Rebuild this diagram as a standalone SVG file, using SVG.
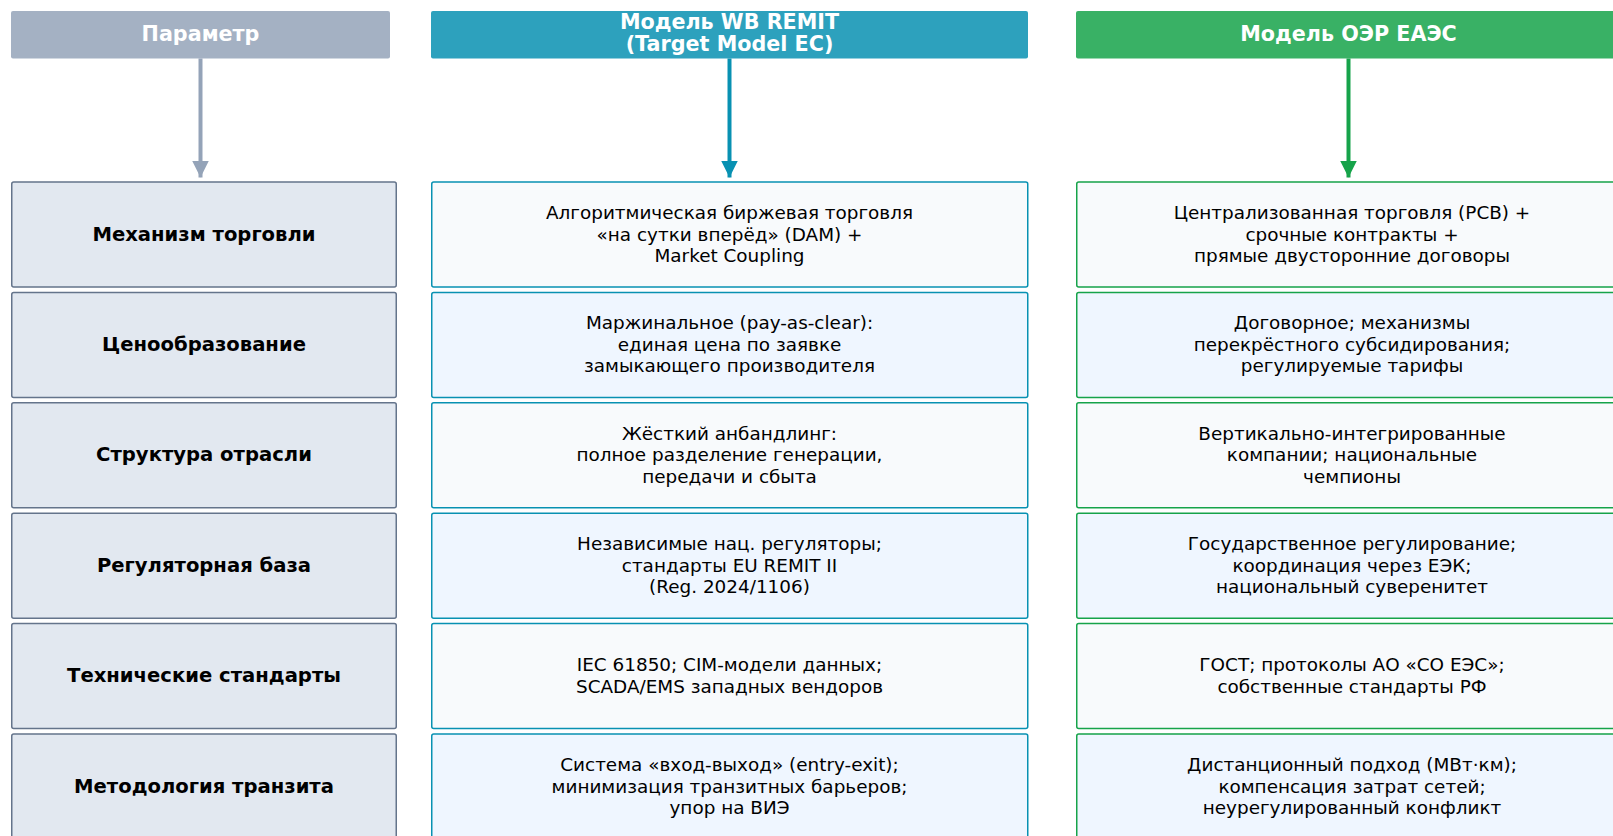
<svg xmlns="http://www.w3.org/2000/svg" width="1613" height="836" viewBox="0 0 1613 836">
  <defs>
    <style>
      .hdr-text { font-family: "DejaVu Sans", "Liberation Sans", sans-serif; font-size: 20.7px; font-weight: bold; fill: #ffffff; text-anchor: middle; dominant-baseline: central; }
      .lbl { font-family: "DejaVu Sans", "Liberation Sans", sans-serif; font-size: 19.6px; font-weight: bold; fill: #000000; text-anchor: middle; dominant-baseline: central; }
      .body { font-family: "DejaVu Sans", "Liberation Sans", sans-serif; font-size: 18.4px; fill: #000000; text-anchor: middle; dominant-baseline: central; }
      .param { fill: #e2e8f0; stroke: #64748b; stroke-width: 1.5; }
      .wb { stroke: #0891b2; stroke-width: 1.5; }
      .eaeu { stroke: #16a34a; stroke-width: 1.5; }
      .odd { fill: #f8fafc; }
      .even { fill: #eff6ff; }
      .conn { fill: none; stroke-width: 4; }
    </style>
    <marker id="arrGray" viewBox="0 0 10 10" refX="10" refY="5" markerUnits="userSpaceOnUse" markerWidth="17" markerHeight="17" orient="auto">
      <path d="M0,0 L10,5 L0,10 Z" fill="#94a3b8"/>
    </marker>
    <marker id="arrTeal" viewBox="0 0 10 10" refX="10" refY="5" markerUnits="userSpaceOnUse" markerWidth="17" markerHeight="17" orient="auto">
      <path d="M0,0 L10,5 L0,10 Z" fill="#0891b2"/>
    </marker>
    <marker id="arrGreen" viewBox="0 0 10 10" refX="10" refY="5" markerUnits="userSpaceOnUse" markerWidth="17" markerHeight="17" orient="auto">
      <path d="M0,0 L10,5 L0,10 Z" fill="#16a34a"/>
    </marker>
  </defs>

  <rect x="0" y="0" width="1613" height="836" fill="#ffffff"/>

  <!-- column headers -->
  <g id="hdr-param">
    <rect x="11" y="11" width="379" height="47.5" rx="2" fill="#94a3b8" fill-opacity="0.85"/>
    <text class="hdr-text" x="200.5" y="34">Параметр</text>
  </g>
  <g id="hdr-wb">
    <rect x="431" y="11" width="597" height="47.5" rx="2" fill="#0891b2" fill-opacity="0.85"/>
    <text class="hdr-text" x="729.5" y="21.5">Модель WB REMIT</text>
    <text class="hdr-text" x="729.5" y="44">(Target Model ЕС)</text>
  </g>
  <g id="hdr-eaeu">
    <rect x="1076" y="11" width="545" height="47.5" rx="2" fill="#16a34a" fill-opacity="0.85"/>
    <text class="hdr-text" x="1348.5" y="34">Модель ОЭР ЕАЭС</text>
  </g>

  <!-- connectors -->
  <g id="connectors">
    <line class="conn" x1="200.5" y1="58.5" x2="200.5" y2="177.5" stroke="#94a3b8" marker-end="url(#arrGray)"/>
    <line class="conn" x1="729.5" y1="58.5" x2="729.5" y2="177.5" stroke="#0891b2" marker-end="url(#arrTeal)"/>
    <line class="conn" x1="1348.5" y1="58.5" x2="1348.5" y2="177.5" stroke="#16a34a" marker-end="url(#arrGreen)"/>
  </g>

  <!-- row 1 -->
  <g id="p-trade">
    <rect class="param" x="11.75" y="182" width="384.5" height="105" rx="2"/>
    <text class="lbl" x="204" y="234">Механизм торговли</text>
  </g>
  <g id="wb-trade">
    <rect class="wb odd" x="431.75" y="182" width="596" height="105" rx="2"/>
    <text class="body" x="729.5" y="212.5">Алгоритмическая биржевая торговля</text>
    <text class="body" x="729.5" y="234">«на сутки вперёд» (DAM) +</text>
    <text class="body" x="729.5" y="255.5">Market Coupling</text>
  </g>
  <g id="eaeu-trade">
    <rect class="eaeu odd" x="1076.75" y="182" width="552" height="105" rx="2"/>
    <text class="body" x="1352" y="212.5">Централизованная торговля (РСВ) +</text>
    <text class="body" x="1352" y="234">срочные контракты +</text>
    <text class="body" x="1352" y="255.5">прямые двусторонние договоры</text>
  </g>

  <!-- row 2 -->
  <g id="p-price">
    <rect class="param" x="11.75" y="292.4" width="384.5" height="105" rx="2"/>
    <text class="lbl" x="204" y="344.4">Ценообразование</text>
  </g>
  <g id="wb-price">
    <rect class="wb even" x="431.75" y="292.4" width="596" height="105" rx="2"/>
    <text class="body" x="729.5" y="322.9">Маржинальное (pay-as-clear):</text>
    <text class="body" x="729.5" y="344.4">единая цена по заявке</text>
    <text class="body" x="729.5" y="365.9">замыкающего производителя</text>
  </g>
  <g id="eaeu-price">
    <rect class="eaeu even" x="1076.75" y="292.4" width="552" height="105" rx="2"/>
    <text class="body" x="1352" y="322.9">Договорное; механизмы</text>
    <text class="body" x="1352" y="344.4">перекрёстного субсидирования;</text>
    <text class="body" x="1352" y="365.9">регулируемые тарифы</text>
  </g>

  <!-- row 3 -->
  <g id="p-structure">
    <rect class="param" x="11.75" y="402.8" width="384.5" height="105" rx="2"/>
    <text class="lbl" x="204" y="454.8">Структура отрасли</text>
  </g>
  <g id="wb-structure">
    <rect class="wb odd" x="431.75" y="402.8" width="596" height="105" rx="2"/>
    <text class="body" x="729.5" y="433.3">Жёсткий анбандлинг:</text>
    <text class="body" x="729.5" y="454.8">полное разделение генерации,</text>
    <text class="body" x="729.5" y="476.3">передачи и сбыта</text>
  </g>
  <g id="eaeu-structure">
    <rect class="eaeu odd" x="1076.75" y="402.8" width="552" height="105" rx="2"/>
    <text class="body" x="1352" y="433.3">Вертикально-интегрированные</text>
    <text class="body" x="1352" y="454.8">компании; национальные</text>
    <text class="body" x="1352" y="476.3">чемпионы</text>
  </g>

  <!-- row 4 -->
  <g id="p-regulation">
    <rect class="param" x="11.75" y="513.2" width="384.5" height="105" rx="2"/>
    <text class="lbl" x="204" y="565.2">Регуляторная база</text>
  </g>
  <g id="wb-regulation">
    <rect class="wb even" x="431.75" y="513.2" width="596" height="105" rx="2"/>
    <text class="body" x="729.5" y="543.7">Независимые нац. регуляторы;</text>
    <text class="body" x="729.5" y="565.2">стандарты EU REMIT II</text>
    <text class="body" x="729.5" y="586.7">(Reg. 2024/1106)</text>
  </g>
  <g id="eaeu-regulation">
    <rect class="eaeu even" x="1076.75" y="513.2" width="552" height="105" rx="2"/>
    <text class="body" x="1352" y="543.7">Государственное регулирование;</text>
    <text class="body" x="1352" y="565.2">координация через ЕЭК;</text>
    <text class="body" x="1352" y="586.7">национальный суверенитет</text>
  </g>

  <!-- row 5 -->
  <g id="p-tech">
    <rect class="param" x="11.75" y="623.6" width="384.5" height="105" rx="2"/>
    <text class="lbl" x="204" y="675.6">Технические стандарты</text>
  </g>
  <g id="wb-tech">
    <rect class="wb odd" x="431.75" y="623.6" width="596" height="105" rx="2"/>
    <text class="body" x="729.5" y="664.9">IEC 61850; CIM-модели данных;</text>
    <text class="body" x="729.5" y="686.4">SCADA/EMS западных вендоров</text>
  </g>
  <g id="eaeu-tech">
    <rect class="eaeu odd" x="1076.75" y="623.6" width="552" height="105" rx="2"/>
    <text class="body" x="1352" y="664.9">ГОСТ; протоколы АО «СО ЕЭС»;</text>
    <text class="body" x="1352" y="686.4">собственные стандарты РФ</text>
  </g>

  <!-- row 6 -->
  <g id="p-transit">
    <rect class="param" x="11.75" y="734" width="384.5" height="105" rx="2"/>
    <text class="lbl" x="204" y="786">Методология транзита</text>
  </g>
  <g id="wb-transit">
    <rect class="wb even" x="431.75" y="734" width="596" height="105" rx="2"/>
    <text class="body" x="729.5" y="764.5">Система «вход-выход» (entry-exit);</text>
    <text class="body" x="729.5" y="786">минимизация транзитных барьеров;</text>
    <text class="body" x="729.5" y="807.5">упор на ВИЭ</text>
  </g>
  <g id="eaeu-transit">
    <rect class="eaeu even" x="1076.75" y="734" width="552" height="105" rx="2"/>
    <text class="body" x="1352" y="764.5">Дистанционный подход (МВт·км);</text>
    <text class="body" x="1352" y="786">компенсация затрат сетей;</text>
    <text class="body" x="1352" y="807.5">неурегулированный конфликт</text>
  </g>
</svg>
